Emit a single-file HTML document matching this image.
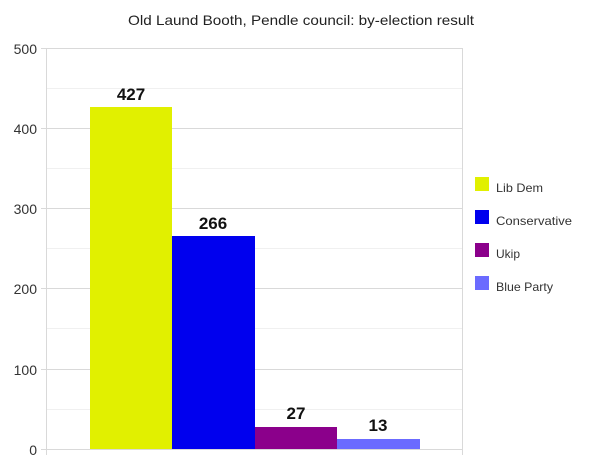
<!DOCTYPE html>
<html><head><style>body{margin:0;background:#fff}</style></head><body>
<svg width="600" height="463" xmlns="http://www.w3.org/2000/svg" font-family="Liberation Sans, sans-serif">
<rect width="600" height="463" fill="#fff"/>
<text x="301" y="25" text-anchor="middle" font-size="14" fill="#222" textLength="346" lengthAdjust="spacingAndGlyphs">Old Laund Booth, Pendle council: by-election result</text>
<g stroke="#f0f0f0" stroke-width="1">
<line x1="47" x2="462" y1="88.5" y2="88.5"/><line x1="47" x2="462" y1="168.5" y2="168.5"/>
<line x1="47" x2="462" y1="248.5" y2="248.5"/><line x1="47" x2="462" y1="328.5" y2="328.5"/>
<line x1="47" x2="462" y1="409.5" y2="409.5"/>
</g>
<g stroke="#d9d9d9" stroke-width="1">
<line x1="41" x2="462" y1="48.5" y2="48.5"/><line x1="41" x2="462" y1="128.5" y2="128.5"/>
<line x1="41" x2="462" y1="208.5" y2="208.5"/><line x1="41" x2="462" y1="288.5" y2="288.5"/>
<line x1="41" x2="462" y1="369.5" y2="369.5"/><line x1="41" x2="462" y1="449.5" y2="449.5"/>
<line x1="46.5" x2="46.5" y1="48" y2="455"/><line x1="462.5" x2="462.5" y1="48" y2="455"/>
</g>
<g font-size="14" fill="#333" text-anchor="end">
<text x="37" y="54">500</text><text x="37" y="134">400</text><text x="37" y="214">300</text>
<text x="37" y="294">200</text><text x="37" y="375">100</text><text x="37" y="455">0</text>
</g>
<rect x="90" y="107" width="82" height="342" fill="#e1f000"/>
<rect x="172" y="236" width="83" height="213" fill="#0000ee"/>
<rect x="255" y="427" width="82" height="22" fill="#8b008b"/>
<rect x="337" y="439" width="83" height="10" fill="#6b6bff"/>
<g font-size="17" font-weight="bold" text-anchor="middle" fill="#111">
<text x="131" y="100">427</text><text x="213" y="229">266</text>
<text x="296" y="419">27</text><text x="378" y="431">13</text>
</g>
<rect x="475" y="177" width="14" height="14" fill="#e1f000"/>
<rect x="475" y="210" width="14" height="14" fill="#0000ee"/>
<rect x="475" y="243" width="14" height="14" fill="#8b008b"/>
<rect x="475" y="276" width="14" height="14" fill="#6b6bff"/>
<g font-size="12" fill="#333">
<text x="496" y="192" textLength="47" lengthAdjust="spacingAndGlyphs">Lib Dem</text>
<text x="496" y="225" textLength="76" lengthAdjust="spacingAndGlyphs">Conservative</text>
<text x="496" y="258" textLength="24" lengthAdjust="spacingAndGlyphs">Ukip</text>
<text x="496" y="291" textLength="57" lengthAdjust="spacingAndGlyphs">Blue Party</text>
</g>
</svg>
</body></html>
